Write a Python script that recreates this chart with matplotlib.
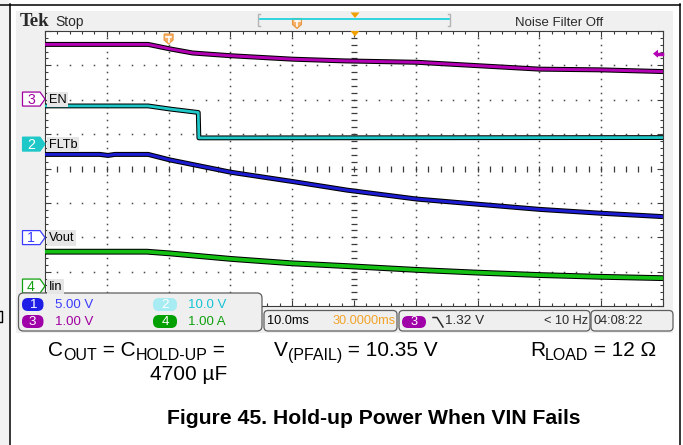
import numpy as np
import matplotlib
matplotlib.use("Agg")
import matplotlib.pyplot as plt
from matplotlib.patches import Rectangle, FancyBboxPatch, Polygon

W, H = 683, 445

# horizontal: 10 ms/div, trigger at 0 ms, screen shows -20..80 ms
t_span = (-20, 80)
ms_per_div = 10

# channels 1..4
ch_ids = ["1", "2", "3", "4"]
ch_names = ["Vout", "FLTb", "EN", "Iin"]
ch_scale = [5.0, 10.0, 1.0, 1.0]          # units / div
ch_scale_txt = ["5.00 V", "10.0 V", "1.00 V", "1.00 A"]
ch_offset = [-2.01, 0.71, 2.02, -3.42]    # ground marker, div from centre
ch_colors = ["#1c1cd2", "#1ec8c8", "#b400b4", "#14c014"]
ch_txt_colors = ["#3b3bff", "#14c4d4", "#a000a0", "#10a010"]
ch_pill = ["#1e1ee6", "#a6ecf2", "#a000a8", "#00a000"]

# traces (time ms, value in channel units)
t_ch1 = [-20, -11.1, -9.8, -8.7, -3.3, 0.2, 10.1, 20.1, 28.9, 40.2, 50.1, 60.1, 69.8, 80]
v_ch1 = [12.1, 12.1, 11.95, 12.1, 12.1, 11.3, 9.5, 8.15, 6.9, 5.6, 4.85, 4.1, 3.55, 3.05]
t_ch2 = [-20, -3.3, 0.2, 4.8, 4.9, 80]
v_ch2 = [11.1, 11.1, 10.2, 9.2, 1.8, 1.9]
t_ch3 = [-20, -3.3, 0.2, 3.9, 10.1, 20.1, 28.5, 40.2, 50.1, 60.1, 69.8, 80]
v_ch3 = [1.59, 1.59, 1.46, 1.34, 1.26, 1.16, 1.11, 1.07, 0.97, 0.87, 0.85, 0.80]
t_ch4 = [-20, -3.5, 0.2, 10.1, 20.1, 28.9, 40.2, 50.1, 60.1, 69.8, 80]
v_ch4 = [1.00, 1.00, 0.95, 0.79, 0.66, 0.58, 0.47, 0.39, 0.32, 0.27, 0.23]

trig_level = 1.32
timebase_txt = "10.0ms"
hpos_txt = "30.0000ms"
trig_txt = "1.32 V"
freq_txt = "< 10 Hz"
clock_txt = "04:08:22"

SCOPE = ["Liberation Sans", "DejaVu Sans"]
CAP = "Liberation Sans"
FS = 9.2

fig = plt.figure(figsize=(W / 100, H / 100), dpi=100)
fig.patch.set_facecolor("white")

# ---- background layer (pixel coordinates)
bg = fig.add_axes([0, 0, 1, 1], zorder=0)
bg.set_xlim(0, W)
bg.set_ylim(H, 0)
bg.axis("off")
bg.add_patch(Rectangle((0, 0), 9, H, color="#f2f2f2", lw=0))
bg.add_patch(Rectangle((16, 11), 657, 322, color="#f0f0f0", lw=0))
bg.plot([9.5, 9.5], [4, H], color="black", lw=1.1)
bg.plot([0, 680], [4.5, 4.5], color="black", lw=1.1)
bg.plot([680, 680], [4, H], color="black", lw=1.1)
bg.plot([0, 2, 2, 0], [311, 311, 322, 322], color="black", lw=1.0)

# graticule geometry
GX0, GY0, GX1, GY1 = 45, 31, 663, 306


def tx(t):
    return GX0 + (t - t_span[0]) / (t_span[1] - t_span[0]) * (GX1 - GX0)


def dy(d):
    return (GY0 + GY1) / 2 - d * (GY1 - GY0) / 8


# ---- graticule axes
ax = fig.add_axes([GX0 / W, 1 - GY1 / H, (GX1 - GX0) / W, (GY1 - GY0) / H], zorder=1)
ax.set_xlim(*t_span)
ax.set_ylim(-4, 4)
ax.set_facecolor("white")
for s in ax.spines.values():
    s.set_color("#3c3c3c")
    s.set_linewidth(0.8)
ax.set_xticks(np.arange(-20, 81, 10))
ax.set_xticks(np.arange(-20, 81, 2), minor=True)
ax.set_yticks(np.arange(-4, 5, 1))
ax.set_yticks(np.arange(-4, 4.01, 0.2), minor=True)
ax.tick_params(which="both", direction="in", top=True, right=True, color="#3c3c3c",
               width=0.8, labelbottom=False, labelleft=False)
ax.tick_params(which="major", length=4.2)
ax.tick_params(which="minor", length=2.2)

dot = "#4a4a4a"
ys_dots = np.arange(-4, 4.01, 0.2)
xs_dots = np.arange(-20, 80.01, 2)
for xm in np.arange(-10, 71, 10):
    if xm == 30:
        continue
    ax.plot(np.full_like(ys_dots, xm), ys_dots, ls="none", marker="s", ms=1.1, mew=0, color=dot)
for ym in range(-3, 4):
    if ym == 0:
        continue
    ax.plot(xs_dots, np.full_like(xs_dots, ym), ls="none", marker="s", ms=1.1, mew=0, color=dot)
# centre cross with small ticks
ax.plot(xs_dots, np.zeros_like(xs_dots), ls="none", marker="|", ms=4.0, mew=0.9, color="#3c3c3c")
ax.plot(np.full_like(ys_dots, 30), ys_dots, ls="none", marker="_", ms=4.0, mew=0.9, color="#3c3c3c")

traces = [(t_ch1, v_ch1), (t_ch2, v_ch2), (t_ch3, v_ch3), (t_ch4, v_ch4)]
widths = [2.1, 2.0, 2.1, 2.7]
for i, (t, v) in enumerate(traces):
    d = ch_offset[i] + np.array(v) / ch_scale[i]
    ax.plot(t, d, color="black", lw=widths[i] + 1.5, solid_capstyle="butt", zorder=3)
    ax.plot(t, d, color=ch_colors[i], lw=widths[i], solid_capstyle="butt", zorder=4)

# ---- overlay (pixel coordinates)
ov = fig.add_axes([0, 0, 1, 1], zorder=2)
ov.set_xlim(0, W)
ov.set_ylim(H, 0)
ov.axis("off")
ov.patch.set_alpha(0)

ov.text(20, 26, "Tek", family="Liberation Serif", weight="bold", fontsize=13.5, color="#2a2a2a", va="baseline")
ov.text(55, 26, "Stop", family=SCOPE, fontsize=FS + 0.8, color="#2a2a2a", va="baseline")
ov.text(515, 26, "Noise Filter Off", family=SCOPE, fontsize=FS + 0.3, color="#2a2a2a", va="baseline")

# record bar
ov.plot([260, 258, 258, 260], [14, 14, 26, 26], color="#b4b4b4", lw=1)
ov.plot([448, 450, 450, 448], [14, 14, 26, 26], color="#b4b4b4", lw=1)
ov.plot([260, 449], [19, 19], color="#22d2dc", lw=1.3)


def shield(x, ytop, w=9, h=10):
    pts = [(x - w / 2, ytop), (x + w / 2, ytop), (x + w / 2, ytop + h * 0.6),
           (x, ytop + h), (x - w / 2, ytop + h * 0.6)]
    ov.add_patch(Polygon(pts, closed=True, fc="#f6b06a", ec="#e8963c", lw=0.8))
    ov.plot([x - 2.5, x + 2.5], [ytop + 2.5, ytop + 2.5], color="white", lw=1.2)
    ov.plot([x, x], [ytop + 2.5, ytop + 7.5], color="white", lw=1.2)


def down_tri(x, ytop, w=9, h=5.5):
    ov.add_patch(Polygon([(x - w / 2, ytop), (x + w / 2, ytop), (x, ytop + h)],
                         closed=True, fc="#f0a000", ec="none"))


shield(297, 18.5)
down_tri(355, 12.5)
shield(tx(0), 34)
down_tri(tx(30) + 1, 31)

# trigger level arrow on right edge
yl = dy(ch_offset[2] + trig_level / ch_scale[2])
ov.add_patch(Polygon([(653, yl), (658, yl - 4), (658, yl + 4)], closed=True, fc=ch_colors[2], ec="none"))
ov.plot([657, 662], [yl, yl], color=ch_colors[2], lw=2.5)

# channel ground markers + labels
for i in range(4):
    y = dy(ch_offset[i])
    pts = [(22.5, y - 7), (40, y - 7), (45, y), (40, y + 7), (22.5, y + 7)]
    if i == 1:
        ov.add_patch(Polygon(pts, closed=True, fc=ch_colors[i], ec=ch_colors[i], lw=0.8))
        c = "white"
    else:
        ov.add_patch(Polygon(pts, closed=True, fc="white", ec=ch_txt_colors[i], lw=0.9))
        c = ch_txt_colors[i]
    ov.text(31, y + 0.5, ch_ids[i], color=c, family=SCOPE, fontsize=FS + 1, ha="center", va="center")
    ov.text(48.5, y + 0.5, ch_names[i], color="black", family=SCOPE, fontsize=FS, va="center",
            bbox=dict(boxstyle="square,pad=0.14", fc="#e6e6e6", ec="none"))

# legend box (channel scales)
ov.add_patch(FancyBboxPatch((18.5, 293), 243.5, 38, boxstyle="round,pad=0,rounding_size=5",
                            fc="#efefef", ec="#5e5e5e", lw=0.9))
pill_xy = [(22, 298), (153, 298), (22, 315), (153, 315)]
txt_x = [55, 188, 55, 188]
for i in range(4):
    px, py = pill_xy[i]
    pw = 21.5 if px < 100 else 24
    ov.add_patch(FancyBboxPatch((px, py), pw, 13, boxstyle="round,pad=0,rounding_size=6",
                                fc=ch_pill[i], ec="none"))
    ov.text(px + pw / 2, py + 7, ch_ids[i], color="white", family=SCOPE, fontsize=FS + 0.5,
            ha="center", va="center")
    ov.text(txt_x[i], py + 7, ch_scale_txt[i], color=ch_txt_colors[i], family=SCOPE,
            fontsize=FS + 0.3, va="center")

# info boxes
for (bx, bw) in [(264, 133), (399, 191), (591, 82)]:
    ov.add_patch(FancyBboxPatch((bx, 310.5), bw, 20.5, boxstyle="round,pad=0,rounding_size=4",
                                fc="#efefef", ec="#5e5e5e", lw=0.9))
ov.text(267, 321.5, timebase_txt, family=SCOPE, fontsize=FS, va="center", color="black")
ov.text(396, 321.5, hpos_txt, family=SCOPE, fontsize=FS, va="center", ha="right", color="#f2a326")
ov.add_patch(FancyBboxPatch((402, 316), 24, 12, boxstyle="round,pad=0,rounding_size=6",
                            fc=ch_pill[2], ec="none"))
ov.text(414, 322.2, ch_ids[2], color="white", family=SCOPE, fontsize=FS, ha="center", va="center")
ov.plot([433, 437, 443], [317.5, 317.5, 327], color="#2a2a2a", lw=1.1)
ov.text(445, 321.5, trig_txt, family=SCOPE, fontsize=FS + 0.5, va="center", color="#2a2a2a")
ov.text(588, 321.5, freq_txt, family=SCOPE, fontsize=FS, va="center", ha="right", color="#2a2a2a")
ov.text(593, 321.5, clock_txt, family=SCOPE, fontsize=FS, va="center", color="#2a2a2a")

# ---- captions under the screen
renderer = fig.canvas.get_renderer()


def run_text(x, y, parts):
    for s, size, off in parts:
        t = bg.text(x, y + off, s, fontsize=size, family=CAP, va="baseline", ha="left", color="black")
        x += t.get_window_extent(renderer=renderer).width


run_text(48, 356.5, [("C", 15, 0), ("OUT", 11.5, 3.5), (" = C", 15, 0), ("HOLD-UP", 11.5, 3.5), (" =", 15, 0)])
bg.text(227, 380, "4700 \u00b5F", fontsize=15, family=CAP, va="baseline", ha="right")
run_text(274, 356.5, [("V", 15, 0), ("(PFAIL)", 11.5, 3.5), (" = 10.35 V", 15, 0)])
run_text(530, 356.5, [("R", 15, 0), ("LOAD", 11.5, 3.5), (" = 12 \u03a9", 15, 0)])
bg.text(373.5, 424, "Figure 45. Hold-up Power When VIN Fails", fontsize=15.2, family=CAP,
        weight="bold", va="baseline", ha="center")

fig.savefig("out.png", dpi=100)
